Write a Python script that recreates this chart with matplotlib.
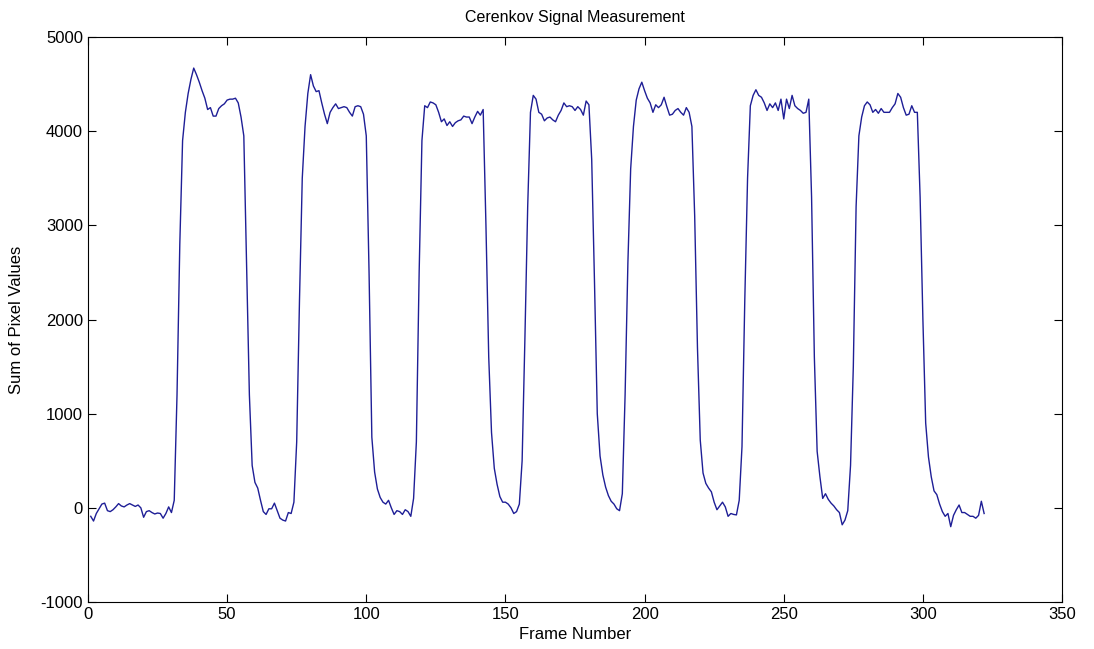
import matplotlib
matplotlib.use("Agg")
import matplotlib.pyplot as plt

# Sum of pixel values per frame (frames 1..322)
frames = list(range(1, 323))
pixel_sum = [
    -90, -140, -60, -10, 40, 50, -30, -40, -20, 10,
    45, 20, 10, 30, 45, 30, 15, 30, 0, -100,
    -40, -30, -50, -65, -55, -60, -110, -60, 10, -50,
    80, 1200, 2800, 3900, 4200, 4400, 4550, 4670, 4600, 4520,
    4430, 4350, 4230, 4250, 4160, 4160, 4240, 4270, 4290, 4330,
    4340, 4340, 4350, 4300, 4150, 3950, 2600, 1200, 450, 270,
    210, 80, -40, -70, -10, -10, 50, -30, -110, -130,
    -140, -50, -60, 60, 700, 2200, 3500, 4050, 4400, 4600,
    4480, 4420, 4430, 4300, 4180, 4080, 4200, 4250, 4290, 4240,
    4250, 4260, 4250, 4200, 4160, 4260, 4270, 4260, 4180, 3950,
    2500, 750, 380, 200, 110, 60, 40, 80, 0, -70,
    -30, -40, -70, -20, -40, -90, 100, 700, 2500, 3900,
    4270, 4250, 4310, 4300, 4280, 4200, 4100, 4130, 4060, 4100,
    4050, 4090, 4110, 4120, 4160, 4150, 4150, 4080, 4150, 4210,
    4170, 4230, 3000, 1600, 800, 420, 250, 120, 60, 60,
    40, 0, -60, -40, 40, 500, 1800, 3200, 4200, 4380,
    4340, 4200, 4180, 4110, 4140, 4150, 4120, 4100, 4170, 4220,
    4300, 4260, 4270, 4260, 4220, 4260, 4230, 4170, 4320, 4280,
    3700, 2400, 1000, 550, 350, 220, 130, 70, 40, -10,
    -30, 150, 1200, 2600, 3600, 4050, 4330, 4450, 4520, 4430,
    4350, 4300, 4200, 4280, 4250, 4280, 4360, 4260, 4170, 4180,
    4220, 4240, 4200, 4170, 4250, 4200, 4050, 3100, 1700, 720,
    370, 260, 210, 170, 60, -20, 20, 60, 10, -90,
    -60, -70, -75, 80, 650, 2200, 3500, 4270, 4380, 4440,
    4380, 4360, 4300, 4220, 4290, 4250, 4300, 4220, 4340, 4130,
    4340, 4240, 4380, 4270, 4240, 4220, 4190, 4200, 4340, 3300,
    1600, 600, 330, 100, 150, 90, 50, 20, -20, -50,
    -180, -130, -30, 450, 1500, 3200, 3950, 4150, 4270, 4310,
    4280, 4200, 4230, 4190, 4240, 4200, 4200, 4200, 4250, 4290,
    4400, 4360, 4250, 4170, 4180, 4270, 4200, 4200, 3300, 2000,
    900, 540, 330, 180, 140, 40, -40, -90, -60, -200,
    -80, -20, 30, -50, -50, -70, -90, -90, -110, -80,
    70, -60,
]

x_ticks = [0, 50, 100, 150, 200, 250, 300, 350]
y_ticks = [-1000, 0, 1000, 2000, 3000, 4000, 5000]

plt.rcParams["font.family"] = ["Liberation Sans", "DejaVu Sans"]
plt.rcParams["axes.unicode_minus"] = False

fig = plt.figure(figsize=(10.94, 6.49), dpi=100)
ax = fig.add_axes([0.0804, 0.0724, 0.8904, 0.8706])

ax.plot(frames, pixel_sum, color="#1e1e96", linewidth=1.0)

ax.set_xlim(0, 350)
ax.set_ylim(-1000, 5000)
ax.set_xticks(x_ticks)
ax.set_yticks(y_ticks)
ax.tick_params(direction="in", top=True, right=True, length=6, labelsize=12)

ax.set_title("Cerenkov Signal Measurement", fontsize=11.5, pad=11)
ax.set_xlabel("Frame Number", fontsize=12, labelpad=4)
ax.set_ylabel("Sum of Pixel Values", fontsize=12, labelpad=12)

fig.savefig("out.png", dpi=100)
